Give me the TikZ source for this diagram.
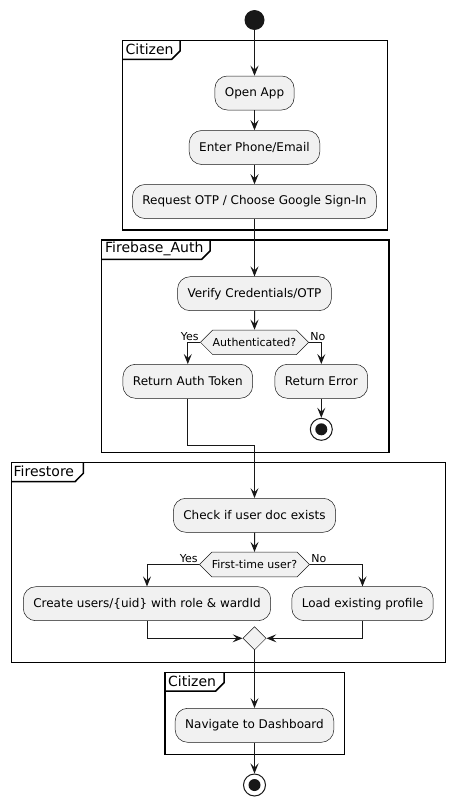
\documentclass[tikz,border=0pt]{standalone}
\usepackage{fontspec}
\setmainfont{DejaVu Sans}
\usetikzlibrary{arrows.meta, shapes.geometric, shapes.symbols}
\definecolor{umlline}{HTML}{181818}
\definecolor{umlfill}{HTML}{F1F1F1}
\begin{document}
\begin{tikzpicture}[x = 1pt, y = -1pt,
	act/.style = {draw = umlline, line width = 0.5pt, fill = umlfill, rounded corners = 12.5pt, minimum height = 34pt, inner xsep = 10pt, font = \fontsize{12}{14}\selectfont},
	choice/.style = {signal, signal to = east and west, draw = umlline, line width = 0.5pt, fill = umlfill, minimum height = 24.6pt, minimum width = 108pt, inner sep = 0pt, font = \fontsize{11}{13}\selectfont},
	merge/.style = {diamond, draw = umlline, line width = 0.5pt, fill = umlfill, minimum size = 23.3pt, inner sep = 0pt},
	stopnode/.style = {circle, draw = umlline, line width = 1pt, fill = white, minimum size = 22pt, inner sep = 0pt},
	flow/.style = {->, > = {Stealth[length = 10pt, width = 8pt, inset = 4pt]}, line width = 1pt, draw = umlline},
	lane/.style = {line width = 1.5pt, draw = black},
	lanetitle/.style = {anchor = west, inner sep = 0pt, font = \fontsize{14}{16}\selectfont},
	answer/.style = {inner sep = 1pt, font = \fontsize{11}{13}\selectfont}]
	\useasboundingbox ( 0, 0 ) rectangle ( 455, 806 );
	\draw[lane] ( 122.3, 40.7 ) rectangle ( 387.7, 230 );
	\draw[lane] ( 122.3, 59.3 ) -- ( 171.7, 59.3 ) -- ( 180, 51 ) -- ( 180, 40.7 );
	\node[lanetitle] (citizenTitle) at ( 125.5, 49.5 ) {Citizen};
	\draw[lane] ( 101.7, 240 ) rectangle ( 389, 452.3 );
	\draw[lane] ( 101.7, 259.3 ) -- ( 201.7, 259.3 ) -- ( 210, 251 ) -- ( 210, 240 );
	\node[lanetitle] (authTitle) at ( 105, 249 ) {Firebase\_Auth};
	\draw[lane] ( 11.7, 462.3 ) rectangle ( 445.7, 662.3 );
	\draw[lane] ( 11.7, 481.7 ) -- ( 75, 481.7 ) -- ( 83.3, 473.3 ) -- ( 83.3, 462.3 );
	\node[lanetitle] (storeTitle) at ( 13.5, 471.5 ) {Firestore};
	\draw[lane] ( 165, 672.3 ) rectangle ( 344.3, 754.3 );
	\draw[lane] ( 165, 691 ) -- ( 215.7, 691 ) -- ( 224, 682.7 ) -- ( 224, 672.3 );
	\node[lanetitle] (citizenTitleB) at ( 168, 681 ) {Citizen};
	\node[circle, fill = umlline, minimum size = 20pt, inner sep = 0pt] (start) at ( 254.5, 20 ) {};
	\node[act] (open) at ( 254.5, 93 ) {Open App};
	\node[act] (enter) at ( 254.5, 147.5 ) {Enter Phone/Email};
	\node[act] (request) at ( 254.5, 201.5 ) {Request OTP / Choose Google Sign-In};
	\node[act] (verify) at ( 254.5, 293.7 ) {Verify Credentials/OTP};
	\node[choice] (auth) at ( 254.5, 342.3 ) {Authenticated?};
	\node[act] (token) at ( 187.8, 381.3 ) {Return Auth Token};
	\node[act] (error) at ( 321.3, 381.3 ) {Return Error};
	\node[stopnode] (stopA) at ( 321.3, 429.3 ) {};
	\fill[umlline] (stopA) circle [radius = 6pt];
	\coordinate (bend) at ( 187.8, 445 );
	\node[act] (check) at ( 254.5, 515.3 ) {Check if user doc exists};
	\node[choice] (first) at ( 254.5, 564.5 ) {First-time user?};
	\node[act] (create) at ( 147, 603.7 ) {Create users/\{uid\} with role \& wardId};
	\node[act] (load) at ( 362.5, 603.7 ) {Load existing profile};
	\node[merge] (join) at ( 254.5, 638.3 ) {};
	\node[act] (nav) at ( 254.5, 725.3 ) {Navigate to Dashboard};
	\node[stopnode] (stopB) at ( 254.5, 785 ) {};
	\fill[umlline] (stopB) circle [radius = 6pt];
	\draw[flow] (start) -- (open);
	\draw[flow] (open) -- (enter);
	\draw[flow] (enter) -- (request);
	\draw[flow] (request) -- (verify);
	\draw[flow] (verify) -- (auth);
	\draw[flow] (auth.west) node[answer, anchor = south east] (yesA) {Yes} -| (token.north);
	\draw[flow] (auth.east) node[answer, anchor = south west] (noA) {No} -| (error.north);
	\draw[flow] (error) -- (stopA);
	\draw[flow] (token.south) -- (bend) -| (check.north);
	\draw[flow] (check) -- (first);
	\draw[flow] (first.west) node[answer, anchor = south east] (yesB) {Yes} -| (create.north);
	\draw[flow] (first.east) node[answer, anchor = south west] (noB) {No} -| (load.north);
	\draw[flow] (create.south) |- (join.west);
	\draw[flow] (load.south) |- (join.east);
	\draw[flow] (join) -- (nav);
	\draw[flow] (nav) -- (stopB);
\end{tikzpicture}
\end{document}
